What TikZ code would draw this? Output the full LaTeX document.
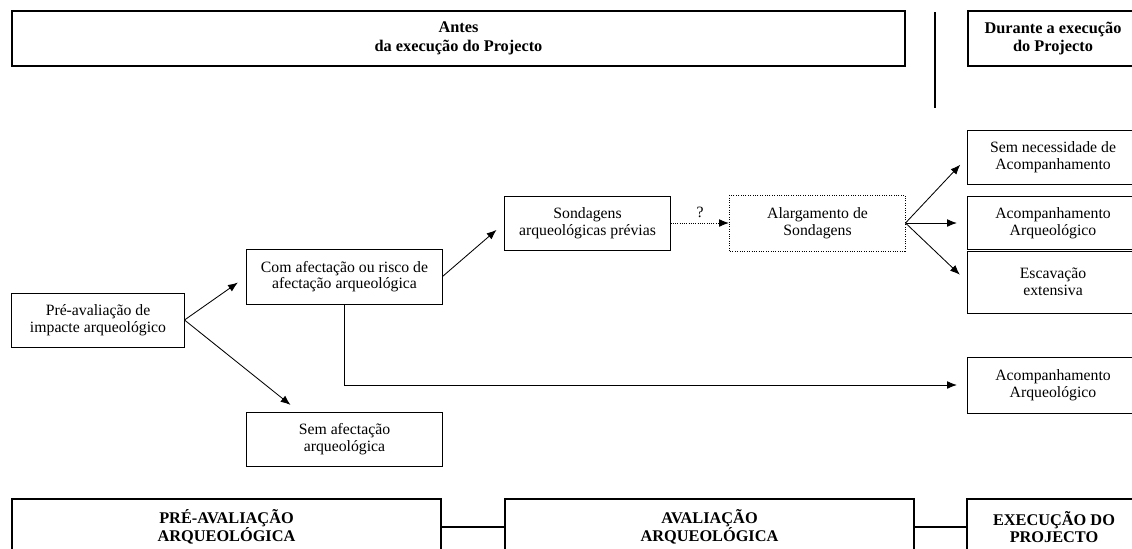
\documentclass[tikz,border=0pt]{standalone}
\usepackage{fontspec}
\setmainfont{Liberation Serif}
\usetikzlibrary{arrows.meta}

\begin{document}
\begin{tikzpicture}[x=0.025cm, y=-0.025cm,
    box/.style={draw, line width=0.7pt, align=center, inner sep=0pt, font=\fontsize{11.2}{11.8}\selectfont},
    head/.style={draw, line width=1.3pt, align=center, inner sep=0pt, font=\fontsize{11.6}{12.4}\selectfont\bfseries},
    arr/.style={-{Latex[length=7pt,width=5.5pt]}, line width=0.6pt, shorten >=7.5pt}]

    \useasboundingbox (0,0) rectangle (1132,548);

    \node[head, minimum width=22.325cm, minimum height=1.375cm, font=\fontsize{11.6}{13.6}\selectfont\bfseries] (a) at (458.5, 38.5) {Antes\\da execução do Projecto};
    \node[head, minimum width=4.25cm, minimum height=1.375cm] (b) at (1053, 38.5) {Durante a execução\\do Projecto};
    \coordinate (s1) at (935, 12);
    \coordinate (s2) at (935, 108);

    \node[box, minimum width=4.3cm, minimum height=1.35cm] (c) at (98, 320) {Pré-avaliação de\\impacte arqueológico};
    \node[box, minimum width=4.875cm, minimum height=1.375cm] (d) at (344.5, 276.5) {Com afectação ou risco de\\afectação arqueológica};
    \node[box, minimum width=4.875cm, minimum height=1.35cm] (e) at (344.5, 439) {Sem afectação\\arqueológica};
    \node[box, minimum width=4.125cm, minimum height=1.35cm] (f) at (587.5, 223) {Sondagens\\arqueológicas prévias};
    \node[box, densely dotted, minimum width=4.375cm, minimum height=1.4cm] (g) at (817.5, 223) {Alargamento de\\Sondagens};

    \node[box, minimum width=4.25cm, minimum height=1.35cm] (h) at (1053, 157) {Sem necessidade de\\Acompanhamento};
    \node[box, minimum width=4.25cm, minimum height=1.325cm] (i) at (1053, 223) {Acompanhamento\\Arqueológico};
    \node[box, minimum width=4.25cm, minimum height=1.55cm] (j) at (1053, 282) {Escavação\\extensiva};
    \node[box, minimum width=4.25cm, minimum height=1.4cm] (k) at (1053, 385) {Acompanhamento\\Arqueológico};

    \node[head, minimum width=10.725cm, minimum height=1.4cm] (l) at (226.5, 527) {PRÉ-AVALIAÇÃO\\ARQUEOLÓGICA};
    \node[head, minimum width=10.225cm, minimum height=1.4cm] (m) at (709.5, 527) {AVALIAÇÃO\\ARQUEOLÓGICA};
    \node[head, minimum width=4.35cm, minimum height=1.4cm] (n) at (1054, 527) {EXECUÇÃO DO\\PROJECTO};

    \draw [line width=1.3pt] (s1) to (s2);
    \draw [arr] (c.east) to (d.west);
    \draw [arr] (c.east) to (e.149);
    \draw [arr] (d.east) to (f.west);
    \draw [arr, densely dotted, shorten >=0.4pt] (f.east) to node [above, font=\fontsize{11.2}{11.8}\selectfont] {?} (g.west);
    \draw [arr] (g.east) to (h.west);
    \draw [arr] (g.east) to (i.west);
    \draw [arr] (g.east) to (j.west);
    \draw [arr] (d.south) |- (k.west);
    \draw [line width=1.3pt] (l.east) to (m.west);
    \draw [line width=1.3pt] (m.east) to (n.west);

\end{tikzpicture}
\end{document}
